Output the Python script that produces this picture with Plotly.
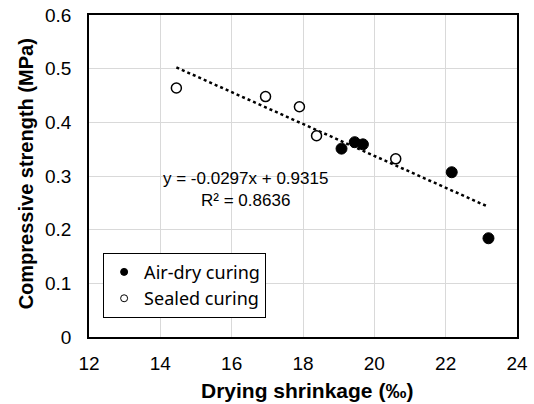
import plotly.graph_objects as go

# Data
air_x = [19.08, 19.45, 19.68, 22.17, 23.2]
air_y = [0.351, 0.363, 0.359, 0.307, 0.184]
sealed_x = [14.45, 16.95, 17.9, 18.38, 20.6]
sealed_y = [0.464, 0.448, 0.429, 0.375, 0.332]
slope = -0.0297
intercept = 0.9315
r2 = 0.8636
x_ticks = [12, 14, 16, 18, 20, 22, 24]
y_ticks = [0, 0.1, 0.2, 0.3, 0.4, 0.5, 0.6]

all_x = air_x + sealed_x
x0, x1 = min(all_x), max(all_x)
trend_x = [x0, x1]
trend_y = [slope * v + intercept for v in trend_x]

FONT = "Liberation Sans, Arial, sans-serif"

fig = go.Figure()
fig.add_trace(go.Scatter(x=trend_x, y=trend_y, mode="lines",
                         line=dict(color="black", width=2.5, dash="dot"),
                         showlegend=False, hoverinfo="skip"))
fig.add_trace(go.Scatter(x=air_x, y=air_y, mode="markers",
                         marker=dict(size=11, color="black", line=dict(color="black", width=1)),
                         showlegend=False))
fig.add_trace(go.Scatter(x=sealed_x, y=sealed_y, mode="markers",
                         marker=dict(size=10, color="white", line=dict(color="black", width=1.5)),
                         showlegend=False))
# legend-only traces
fig.add_trace(go.Scatter(x=[None], y=[None], mode="markers", name="Air-dry curing",
                         marker=dict(size=7, color="black", line=dict(color="black", width=1))))
fig.add_trace(go.Scatter(x=[None], y=[None], mode="markers", name="Sealed curing",
                         marker=dict(size=7, color="white", line=dict(color="black", width=1))))

eq = f"y = {slope:.4f}x + {intercept:.4f}<br>R² = {r2:.4f}"
fig.add_annotation(x=16.38, y=0.275, xref="x", yref="y", text=eq, showarrow=False,
                   align="center", font=dict(family=FONT, size=17, color="black"))

# axis titles
fig.add_annotation(x=0.5105, y=-0.1665, xref="paper", yref="paper", showarrow=False,
                   text="<b>Drying shrinkage (‰)</b>", xanchor="center", yanchor="middle",
                   font=dict(family=FONT, size=21, color="black"))
fig.add_annotation(x=-0.1465, y=0.506, xref="paper", yref="paper", showarrow=False,
                   text="<b>Compressive strength (MPa)</b>", textangle=-90,
                   xanchor="center", yanchor="middle",
                   font=dict(family=FONT, size=20, color="black"))

axis_common = dict(showgrid=True, gridcolor="#d9d9d9", gridwidth=1,
                   showline=True, linecolor="black", linewidth=1.5, mirror=True,
                   ticks="", zeroline=False, automargin=False,
                   ticklabeloverflow="allow",
                   tickfont=dict(family=FONT, size=19, color="black"))
fig.update_xaxes(range=[12, 24], tickvals=x_ticks, ticklabelstandoff=8, **axis_common)
fig.update_yaxes(range=[0, 0.6], tickvals=y_ticks,
                 ticktext=[("0" if v == 0 else f"{v:.1f}") for v in y_ticks],
                 ticklabelstandoff=12, **axis_common)
fig.update_layout(width=534, height=404,
                  margin=dict(l=89, r=17, t=15, b=67, autoexpand=False),
                  paper_bgcolor="white", plot_bgcolor="white",
                  legend=dict(x=0.033, y=0.06, xanchor="left", yanchor="bottom",
                              bordercolor="black", borderwidth=1, bgcolor="white",
                              font=dict(family="Noto Sans", size=18, color="black"),
                              itemwidth=30, tracegroupgap=0))
# remove the browser's default 8px body margin so the figure fills the window
fig.write_html("out.html", config={"displayModeBar": False},
               post_script="document.body.style.margin='0';")
